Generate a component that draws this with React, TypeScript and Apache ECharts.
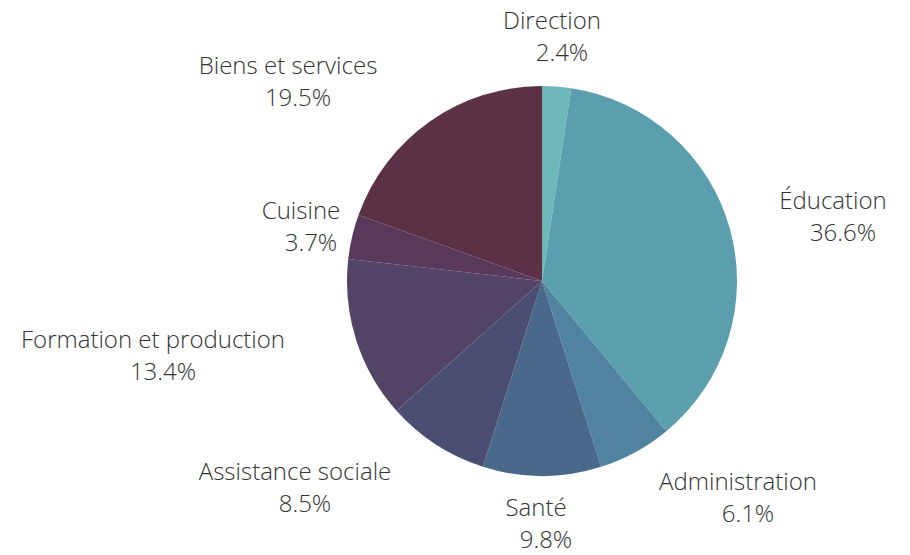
import React, { useEffect, useRef } from "react";
import * as echarts from "echarts";

const categories = [
  "Direction",
  "Éducation",
  "Administration",
  "Santé",
  "Assistance sociale",
  "Formation et production",
  "Cuisine",
  "Biens et services",
];
const values = [2.4, 36.6, 6.1, 9.8, 8.5, 13.4, 3.7, 19.5];
const colors = [
  "#6fb8b9",
  "#5b9eae",
  "#50839f",
  "#4a6889",
  "#494e72",
  "#524466",
  "#58395c",
  "#5c3145",
];
// label block centre, offset from the pie centre (layout only)
const labelOffsets: [number, number][] = [
  [10, -246],
  [291, -66],
  [196, 215],
  [-6, 241],
  [-247, 205],
  [-389, 73],
  [-241, -56],
  [-254, -201],
];

const CX = 542;
const CY = 281;
const R = 195;

const textBase = {
  fontFamily: "Open Sans",
  fontWeight: 300,
  fontSize: 24,
  lineHeight: 32,
  color: "#333333",
};

export default function App() {
  const ref = useRef<HTMLDivElement>(null);
  useEffect(() => {
    if (!ref.current) return;
    const chart = echarts.init(ref.current, null, { renderer: "svg" });
    chart.setOption({
      animation: false,
      backgroundColor: "#ffffff",
      series: [
        {
          type: "pie",
          center: [CX, CY],
          radius: [0, R],
          startAngle: 90,
          clockwise: true,
          avoidLabelOverlap: false,
          data: categories.map((name, i) => ({
            name,
            value: values[i],
            itemStyle: { color: colors[i] },
          })),
          itemStyle: { borderWidth: 0 },
          label: {
            show: true,
            position: "outside",
            formatter: (p: any) =>
              `{n|${p.name}}\n{p|${values[p.dataIndex].toFixed(1)}%}`,
            ...textBase,
            rich: {
              n: { ...textBase, align: "center" },
              p: { ...textBase, align: "center", padding: [0, 0, 0, 20] },
            },
          },
          labelLine: { show: false },
          labelLayout: (params: any) => {
            const off = labelOffsets[params.dataIndex];
            return {
              x: CX + off[0],
              y: CY + off[1],
              align: "center",
              verticalAlign: "middle",
            };
          },
          emphasis: { disabled: true },
        },
      ],
    });
    return () => chart.dispose();
  }, []);
  return (
    <div
      ref={ref}
      style={{ position: "fixed", left: 0, top: 0, width: 910, height: 555 }}
    />
  );
}
